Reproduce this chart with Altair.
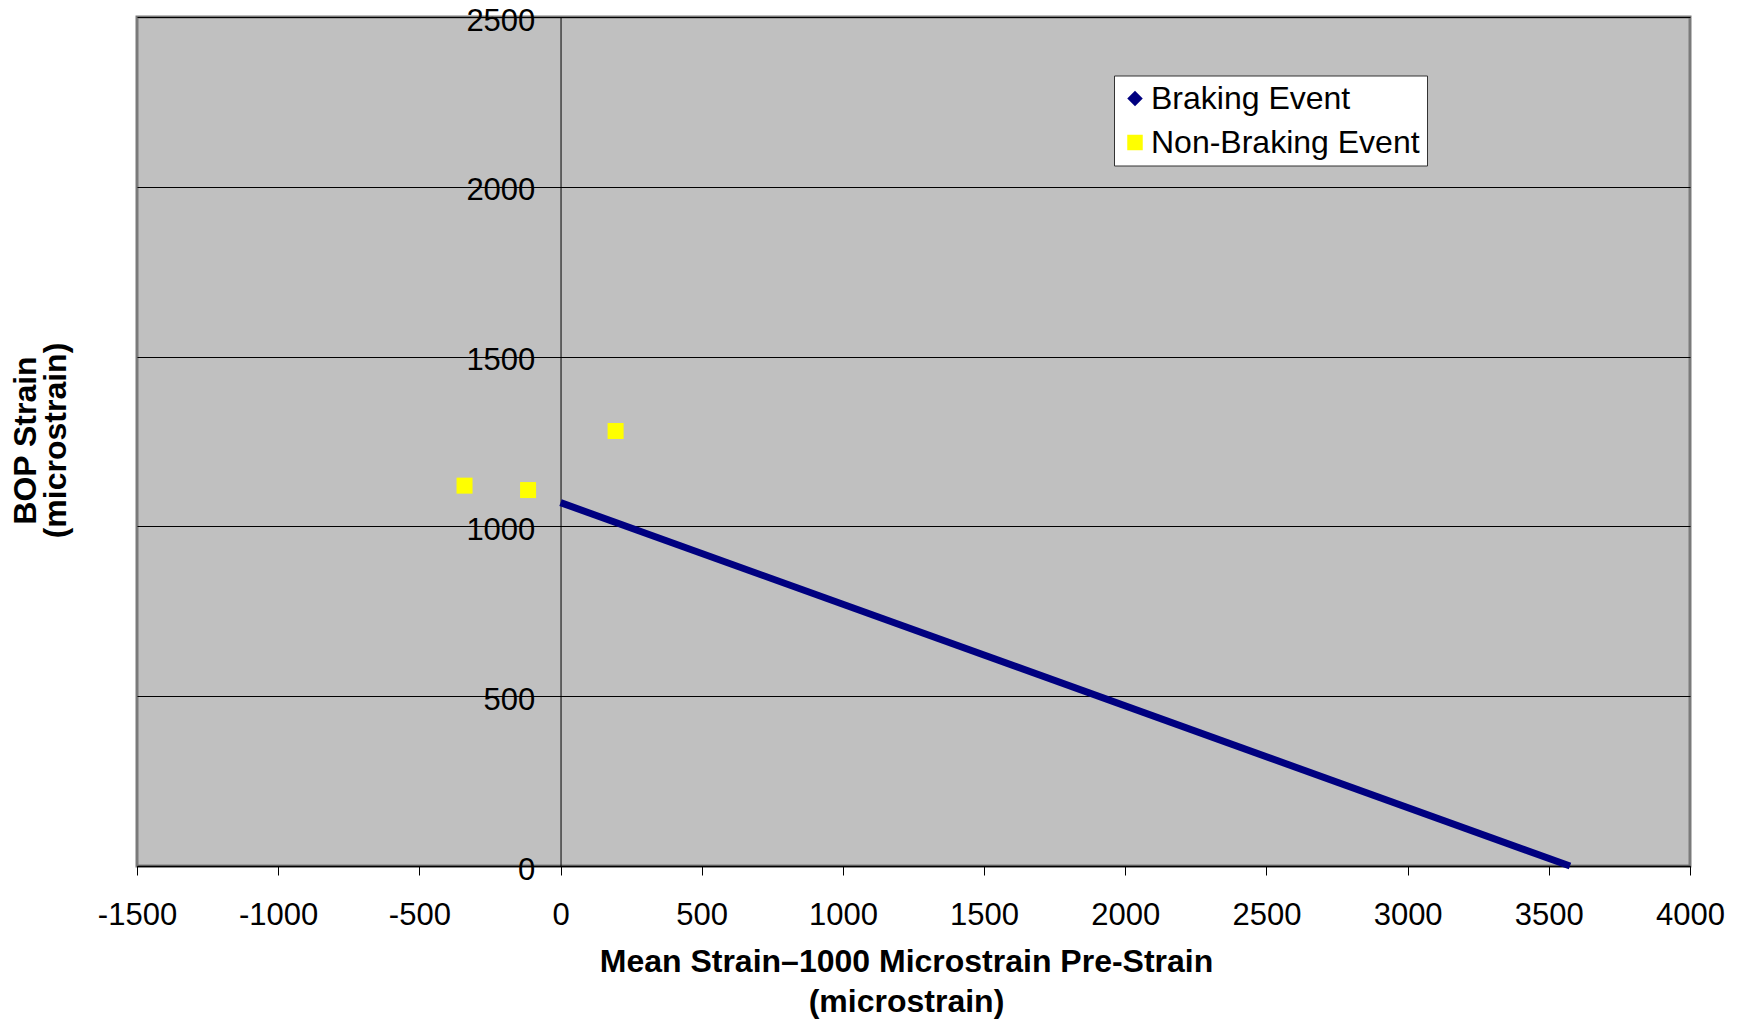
import altair as alt
import pandas as pd

# ---- data ----
series = ["Braking Event", "Non-Braking Event"]
series_colors = ["#000080", "#FFFF00"]
series_shapes = ["diamond", "square"]

# Non-braking events (yellow squares)
nb_x = [-340, -115, 195]
nb_y = [1120, 1107, 1281]

# Braking event boundary line
br_x = [0, 3575]
br_y = [1070, 0]

x_ticks = [-1500, -1000, -500, 0, 500, 1000, 1500, 2000, 2500, 3000, 3500, 4000]
y_ticks = [0, 500, 1000, 1500, 2000, 2500]

x_title = ["Mean Strain\u20131000 Microstrain Pre-Strain", "(microstrain)"]
y_title = ["BOP Strain", "(microstrain)"]

# ---- layout ----
W, H = 1553, 849
LEFT, TOP = 129, 9
X_MIN, X_MAX = -1500, 4000
x0_px = (0 - X_MIN) / (X_MAX - X_MIN) * W
FONT = "Liberation Sans"

nb = pd.DataFrame({"x": nb_x, "y": nb_y, "series": series[1]})
br = pd.DataFrame({"x": br_x, "y": br_y, "series": series[0]})

xs = alt.Scale(domain=[X_MIN, X_MAX], nice=False, zero=False)
ys = alt.Scale(domain=[0, 2500], nice=False, zero=False)

x_axis = alt.Axis(
    values=x_ticks, grid=False, tickSize=9, tickColor="black", tickWidth=1,
    domainColor="black", domainWidth=1.5,
    labelFontSize=31, labelFont=FONT, labelColor="black", labelPadding=25,
    labelFlush=False, labelOverlap=False, labelAngle=0,
    labelExpr="'' + datum.value",
    title=x_title, titleFont=FONT, titleFontSize=32, titleFontWeight="bold",
    titleColor="black", titleLineHeight=40, titleBaseline="top",
    titleAlign="center", titleX=W / 2 - 7.5, titleY=80.6,
)

y_axis = alt.Axis(
    values=y_ticks, orient="left", offset=-x0_px,
    grid=True, gridColor="black", gridWidth=1, gridOpacity=1,
    tickSize=8, tickColor="black", tickWidth=1,
    domainColor="black", domainWidth=1,
    labelFontSize=31, labelFont=FONT, labelColor="black", labelPadding=17.7,
    labelOffset=4, labelBaseline="middle", labelFlush=False, labelOverlap=False,
    labelExpr="'' + datum.value",
    title=y_title, titleFont=FONT, titleFontSize=32, titleFontWeight="bold",
    titleColor="black", titleLineHeight=30, titleAngle=270, titleBaseline="top",
    titleAlign="center", titleX=10.3 - (LEFT + 8) - x0_px, titleY=423,
)

line = alt.Chart(br).mark_line(color="#000080", strokeWidth=7, strokeCap="butt").encode(
    x=alt.X("x:Q", scale=xs, axis=x_axis),
    y=alt.Y("y:Q", scale=ys, axis=y_axis),
)

legend = alt.Legend(title=None)
points = alt.Chart(nb).mark_point(filled=True, size=256, opacity=1).encode(
    x=alt.X("x:Q", scale=xs, axis=x_axis),
    y=alt.Y("y:Q", scale=ys, axis=y_axis),
    color=alt.Color("series:N", scale=alt.Scale(domain=series, range=series_colors), legend=legend),
    shape=alt.Shape("series:N", scale=alt.Scale(domain=series, range=series_shapes), legend=legend),
)

chart = (
    alt.layer(line, points)
    .properties(
        width=W, height=H,
        padding={"left": LEFT, "top": TOP, "right": 40, "bottom": 155},
        autosize=alt.AutoSizeParams(type="none"),
        background="white",
    )
    .configure_view(fill="#C0C0C0", stroke="#7a7a7a", strokeWidth=3)
    .configure_legend(
        orient="none", legendX=977, legendY=58.5,
        fillColor="white", strokeColor="#333333", padding=7,
        labelFont=FONT, labelFontSize=32, labelColor="black", labelOffset=0,
        symbolSize=240, symbolStrokeWidth=0, symbolOffset=-2, rowPadding=12,
        cornerRadius=0, labelLimit=0,
    )
)

chart.save("out.html", embed_options={"renderer": "svg", "actions": False})
